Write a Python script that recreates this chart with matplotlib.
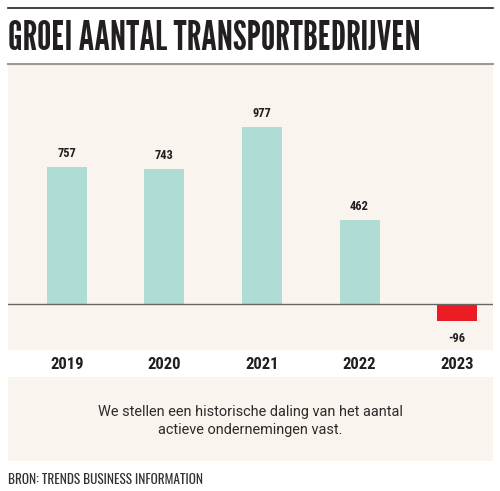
import matplotlib
matplotlib.use("Agg")
import matplotlib.pyplot as plt
from matplotlib.patches import Rectangle
from matplotlib.lines import Line2D
from matplotlib import font_manager

years = ["2019", "2020", "2021", "2022", "2023"]
growth = [757, 743, 977, 462, -96]

title = "GROEI AANTAL TRANSPORTBEDRIJVEN"
note = "We stellen een historische daling van het aantal\nactieve ondernemingen vast."
source = "BRON: TRENDS BUSINESS INFORMATION"

TEAL = "#b0dcd6"
RED = "#ec1c24"
CREAM = "#f9f5ee"
INK = "#231f20"

installed = {f.name for f in font_manager.fontManager.ttflist}

def pick(*cands):
    for c in cands:
        if c in installed:
            return c
    return "DejaVu Sans"

title_font = pick("League Gothic", "Oswald", "Antonio", "Bebas Neue", "Fjalla One",
                  "Sofia Sans Extra Condensed", "Roboto Condensed", "Barlow Condensed")
label_font = pick("Roboto Condensed", "Barlow Condensed", "Sofia Sans Condensed",
                  "Asap Condensed", "Oswald")
source_font = pick("Oswald", "Barlow Condensed", "Roboto Condensed", "Sofia Sans Condensed")

W, H = 500, 491
fig = plt.figure(figsize=(5, 4.91), dpi=100)
fig.patch.set_facecolor("white")

def fx(px):
    return px / W

def fy(py):
    return 1 - py / H

def fit_width(txt, target_px):
    # scale font size so the text spans the target width in pixels
    r = fig.canvas.get_renderer()
    w = txt.get_window_extent(renderer=r).width
    txt.set_fontsize(txt.get_fontsize() * target_px / w)

# rules and title
fig.add_artist(Line2D([fx(8), fx(493)], [fy(7.5), fy(7.5)], color=INK, lw=1.2))
fig.add_artist(Line2D([fx(8), fx(493)], [fy(63.5), fy(63.5)], color="#999999", lw=1.5))
t = fig.text(fx(8), fy(50), title, fontsize=28, family=title_font,
             color=INK, ha="left", va="baseline")
fit_width(t, 412)

# chart panel
ax = fig.add_axes([fx(8), fy(350), fx(485), (350 - 65) / H])
ax.set_facecolor(CREAM)
colors = [TEAL if v >= 0 else RED for v in growth]
x = list(range(len(years)))
ax.bar(x, growth, width=0.41, color=colors, zorder=2)
ax.axhline(0, color="#666666", lw=1.0, zorder=3)
ax.set_xlim(-0.601, 4.367)
ax.set_ylim(-254, 1319)
for i, v in enumerate(growth):
    off, va = ((0, 5), "bottom") if v >= 0 else ((0, -8), "top")
    ax.annotate(str(v), (i, v), xytext=off, textcoords="offset points",
                ha="center", va=va, fontsize=9, fontweight="bold",
                family=label_font, color=INK)
ax.set_xticks(x)
ax.set_xticklabels(years, fontsize=12, fontweight="bold", family=label_font, color=INK)
ax.tick_params(axis="x", length=0, pad=5)
ax.set_yticks([])
for s in ax.spines.values():
    s.set_visible(False)

# note box
fig.add_artist(Rectangle((fx(8), fy(461)), fx(485), (461 - 377) / H,
                         facecolor=CREAM, edgecolor="none"))
n = fig.text(0.5, fy(421), note, ha="center", va="center", fontsize=11.5,
             family="Roboto", color="#2b2b2b", linespacing=1.35)
fit_width(n, 308)

s = fig.text(fx(8), fy(484), source, fontsize=8, family=source_font, color="#333333",
             ha="left", va="baseline")
fit_width(s, 195)

fig.savefig("out.png", dpi=100, facecolor="white")
